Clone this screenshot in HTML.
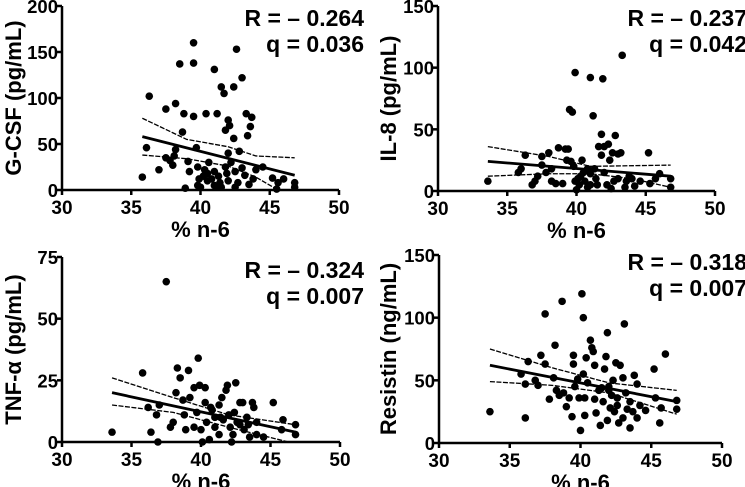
<!DOCTYPE html>
<html><head><meta charset="utf-8"><style>
body{margin:0;background:#fff}
svg{display:block;font-family:"Liberation Sans",Arial,sans-serif;font-weight:bold}
</style></head><body>
<svg id="c" width="745" height="487" viewBox="0 0 745 487"></svg>
<script>
// ---- data ----
const xTicks=[30,35,40,45,50];
const p1Ticks=[0,50,100,150,200];
const p2Ticks=[0,50,100,150];
const p3Ticks=[0,25,50,75];
const p4Ticks=[0,50,100,150];
const p1Labels=["R = \u2013 0.264","q = 0.036"];
const p2Labels=["R = \u2013 0.237","q = 0.042"];
const p3Labels=["R = \u2013 0.324","q = 0.007"];
const p4Labels=["R = \u2013 0.318","q = 0.007"];
const p1Pts=[[36.3,102],[36.1,46],[35.8,14],[37.0,22],[37.5,88],[37.5,35],[37.8,32],[38.0,27],[38.2,94],[38.2,44],[38.1,37],[38.5,137],[38.7,63],[38.8,83],[38.9,2],[39.1,31],[39.2,20],[39.5,160],[39.5,138],[39.5,80],[39.7,46],[39.8,25],[39.8,5],[40.0,3],[40.2,15],[40.3,22],[40.4,83],[40.5,10],[40.5,18],[40.8,12],[41.0,131],[41.0,20],[41.0,5],[41.2,83],[41.3,15],[41.4,8],[41.5,112],[41.7,105],[41.8,65],[41.8,25],[41.9,18],[42.0,76],[42.0,40],[42.1,70],[42.2,30],[42.4,112],[42.4,56],[42.5,20],[42.5,3],[42.6,153],[42.7,8],[42.8,42],[43.0,122],[43.0,24],[43.2,16],[43.3,83],[43.4,59],[43.6,69],[43.7,79],[43.5,6],[43.8,12],[44.0,22],[44.5,25],[45.2,13],[45.5,1],[45.6,8],[46.0,12],[46.8,8],[46.8,3],[41.5,3],[42.0,10],[40.6,30],[39.9,12],[41.2,3]];
const p1Fit=[[35.8,58],[46.8,16]];
const p1Up=[[35.8,78],[39,55],[42,47],[44,37],[46.8,35]];
const p1Lo=[[35.8,38],[39,34],[42,26],[44,14],[45.6,0]];
const p2Pts=[[33.6,8],[35.8,15],[36.0,18],[36.3,29],[36.8,5],[37.0,8],[37.2,12],[37.5,28],[37.5,21],[37.8,15],[38.0,31],[38.2,8],[38.5,6],[38.7,35],[38.2,18],[39.0,6],[39.2,34],[39.4,34],[39.5,66],[39.7,64],[39.3,25],[39.6,24],[39.8,20],[39.9,96],[40.0,1],[40.1,10],[40.2,5],[40.4,25],[40.5,15],[40.6,8],[40.8,3],[41.0,92],[41.0,14],[41.2,61],[41.3,18],[41.4,10],[41.6,36],[41.8,46],[41.8,29],[41.9,91],[42.0,36],[42.2,5],[42.3,38],[42.4,25],[42.5,2],[42.6,31],[42.8,45],[43.0,30],[43.0,10],[43.2,31],[43.3,110],[43.5,3],[43.6,8],[44.0,10],[44.2,4],[44.6,8],[45.2,31],[45.3,6],[45.7,10],[46.0,14],[46.8,10],[46.8,3],[41.0,5],[40.3,12],[42.0,15],[41.5,5],[43.8,12],[40.8,18],[42.7,8],[39.9,8]];
const p2Fit=[[33.6,24],[46.8,12]];
const p2Up=[[33.6,36],[38,28],[41,20],[46.8,21]];
const p2Lo=[[33.6,12],[38,14],[41,14],[44,10],[46.8,3]];
const p3Pts=[[33.6,4],[35.8,28],[36.2,14],[36.4,4],[36.8,11],[37.0,15],[36.9,0],[37.5,65],[37.8,6],[38.0,8],[38.2,20],[38.3,30],[38.5,26],[38.7,17],[38.8,11],[38.9,5],[39.1,29],[39.2,18],[39.5,22],[39.5,6],[39.7,12],[39.8,34],[39.9,23],[40.0,5],[40.1,0],[40.3,22],[40.3,16],[40.4,8],[40.6,1],[40.8,13],[41.0,10],[41.0,6],[41.3,15],[41.3,3],[41.5,18],[41.6,9],[41.8,21],[41.9,23],[42.0,11],[42.1,6],[42.3,3],[42.4,12],[42.5,24],[42.6,8],[42.8,16],[43.0,16],[43.1,5],[43.3,10],[43.5,2],[43.7,16],[43.8,14],[44.0,8],[44.0,3],[44.5,2],[45.2,16],[45.8,5],[45.9,9],[46.8,7],[46.8,3],[42.2,0],[41.4,10],[42.8,7],[40.7,14],[43.4,7]];
const p3Fit=[[33.6,20],[46.8,4]];
const p3Up=[[33.6,26],[38,18],[42,11],[46.8,7]];
const p3Lo=[[33.6,15],[38,12],[42,6],[46.3,0]];
const p4Pts=[[33.6,25],[35.8,55],[36.1,47],[36.1,20],[36.3,65],[36.8,50],[37.0,46],[37.2,70],[37.5,63],[37.5,103],[37.8,35],[38.1,52],[38.2,78],[38.3,42],[38.5,38],[38.7,113],[38.8,40],[39.0,29],[39.2,36],[39.4,21],[39.5,70],[39.5,63],[39.6,45],[39.8,51],[39.9,36],[40.0,10],[40.1,119],[40.2,100],[40.2,55],[40.3,22],[40.3,36],[40.4,68],[40.5,48],[40.7,82],[40.8,76],[40.9,73],[41.0,62],[41.0,35],[41.1,24],[41.3,42],[41.4,14],[41.6,33],[41.7,59],[41.8,69],[41.9,88],[41.9,18],[42.0,45],[42.1,28],[42.2,38],[42.3,50],[42.4,25],[42.5,64],[42.6,36],[42.7,16],[42.8,62],[43.0,52],[43.0,20],[43.1,95],[43.2,40],[43.3,27],[43.5,12],[43.7,25],[43.8,54],[44.0,47],[44.0,20],[44.2,30],[44.6,26],[45.2,59],[45.3,36],[45.7,28],[45.6,16],[46.0,71],[46.8,34],[46.8,27],[42.0,42],[41.5,44],[42.6,30],[43.5,33]];
const p4Fit=[[33.6,62],[46.8,33]];
const p4Up=[[33.6,75],[38,60],[42,48],[46.8,42]];
const p4Lo=[[33.6,49],[38,46],[42,40],[46.8,23]];

const NS="http://www.w3.org/2000/svg";
const svg=document.getElementById('c');
function mk(tag,attrs,parent){const e=document.createElementNS(NS,tag);for(const k in attrs)e.setAttribute(k,attrs[k]);(parent||svg).appendChild(e);return e;}

function panel(id,g,yTicks,title,pts,fit,up,lo,labels){
  const G=mk('g',{});
  
  
  const ymax=yTicks[yTicks.length-1];
  const sx=v=>g.x0+(v-30)/20*(g.x1-g.x0);
  const sy=v=>g.y0-(v/ymax)*(g.y0-g.y1);
  const ax=mk('path',{d:`M${g.x0},${g.y1} V${g.y0} H${g.x1}`,stroke:'#000','stroke-width':2.5,fill:'none'},G);
  
  
  xTicks.forEach(t=>{
    mk('line',{x1:sx(t),x2:sx(t),y1:g.y0,y2:g.y0+5,stroke:'#000','stroke-width':2.5},G);
    const tx=mk('text',{x:sx(t),y:g.y0+24,'text-anchor':'middle','font-size':19},G);
    tx.textContent=t;
    
    
  });
  yTicks.forEach(t=>{
    mk('line',{x1:g.x0-5,x2:g.x0,y1:sy(t),y2:sy(t),stroke:'#000','stroke-width':2.5},G);
    const tx=mk('text',{x:g.x0-4,y:sy(t)+7,'text-anchor':'end','font-size':18.5},G);
    tx.textContent=t;
    
    
  });
  const xt=mk('text',{x:(g.x0+g.x1)/2,y:g.y0+47,'text-anchor':'middle','font-size':22},G);
  xt.textContent='% n-6';
  
  
  const cy=(g.y0+g.y1)/2;
  const yt=mk('text',{x:g.ty,y:cy,'text-anchor':'middle','font-size':22,transform:`rotate(-90 ${g.ty} ${cy})`},G);
  yt.textContent=title;
  
  
  pts.forEach(p=>{
    const c=mk('circle',{cx:sx(p[0]),cy:sy(p[1]),r:3.8,fill:'#000'},G);
    
    
  });
  const line=(arr,w,dash,name)=>{
    const l=mk('polyline',{points:arr.map(p=>sx(p[0])+','+sy(p[1])).join(' '),fill:'none',stroke:'#000','stroke-width':w,'stroke-dasharray':dash},G);
    
    
  };
  line(fit,2.8,'none',id+'-fit-line');
  line(up,1.3,'5 1.5',id+'-ci-upper');
  line(lo,1.3,'5 1.5',id+'-ci-lower');
  labels.forEach((s,i)=>{
    const t=mk('text',{x:g.rx,y:g.ly+i*26,'text-anchor':'end','font-size':23},G);
    t.textContent=s;
    
    
  });
}
panel('g-csf',{x0:62,x1:339,y0:190,y1:6,ty:21,rx:364,ly:26},p1Ticks,'G-CSF (pg/mL)',p1Pts,p1Fit,p1Up,p1Lo,p1Labels);
panel('il-8',{x0:438,x1:715,y0:191,y1:6,ty:396,rx:747,ly:26},p2Ticks,'IL-8 (pg/mL)',p2Pts,p2Fit,p2Up,p2Lo,p2Labels);
panel('tnf-a',{x0:62,x1:340,y0:442,y1:257,ty:21,rx:364,ly:278},p3Ticks,'TNF-\u03b1 (pg/mL)',p3Pts,p3Fit,p3Up,p3Lo,p3Labels);
panel('resistin',{x0:439,x1:722,y0:443,y1:255,ty:396,rx:747,ly:270},p4Ticks,'Resistin (ng/mL)',p4Pts,p4Fit,p4Up,p4Lo,p4Labels);
</script>
</body></html>
